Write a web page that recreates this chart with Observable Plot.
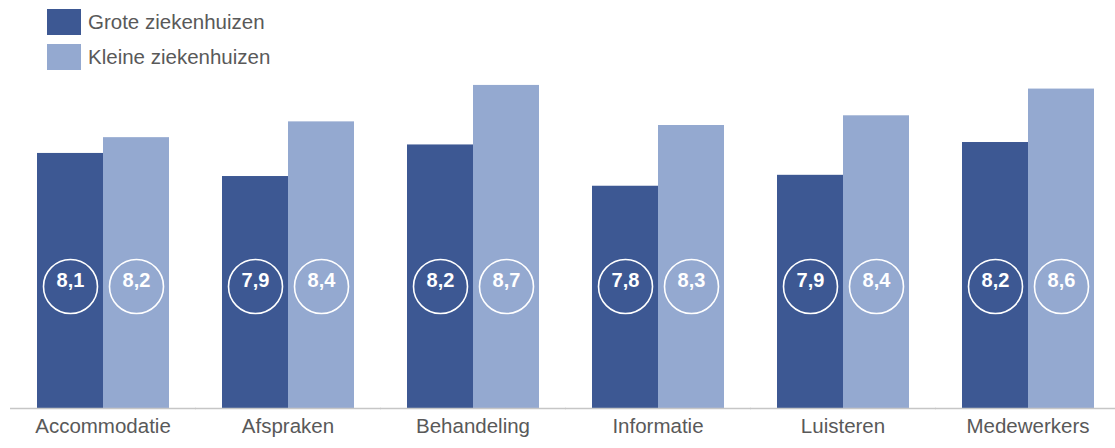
<!DOCTYPE html>
<html>
<head>
<meta charset="utf-8">
<script src="https://cdn.jsdelivr.net/npm/d3@7"></script>
<script src="https://cdn.jsdelivr.net/npm/@observablehq/plot@0.6"></script>
<style>
  html, body { margin: 0; padding: 0; background: #fff; overflow: hidden; }
  body { width: 1115px; height: 448px; font-family: "Liberation Sans", Arial, sans-serif; }
  #legend { position: relative; height: 74px; }
  .item { position: absolute; left: 47px; display: flex; align-items: center; }
  .sw { width: 34px; height: 26px; margin-right: 7px; }
  .lab { font-size: 20.5px; color: #595959; }
</style>
</head>
<body>
<div id="legend"></div>
<div id="chart"></div>
<script>
const categories = ["Accommodatie", "Afspraken", "Behandeling", "Informatie", "Luisteren", "Medewerkers"];
const seriesNames = ["Grote ziekenhuizen", "Kleine ziekenhuizen"];
const grote = [8.10, 7.91, 8.17, 7.83, 7.92, 8.19];
const kleine = [8.23, 8.36, 8.66, 8.33, 8.41, 8.63];
const colors = ["#3d5893", "#94a9d0"];
const baseline = 6;

const data = [];
categories.forEach((c, i) => {
  data.push({cat: c, series: seriesNames[0], value: grote[i]});
  data.push({cat: c, series: seriesNames[1], value: kleine[i]});
});

const fmt = v => d3.format(".1f")(v).replace(".", ",");

// legend
const legend = document.getElementById("legend");
seriesNames.forEach((s, i) => {
  const it = document.createElement("div");
  it.className = "item";
  it.style.top = (9 + i * 35) + "px";
  it.innerHTML = `<div class="sw" style="background:${colors[i]}"></div><span class="lab">${s}</span>`;
  legend.appendChild(it);
});

const chart = Plot.plot({
  width: 1115,
  height: 374,
  marginTop: 0,
  marginBottom: 40,
  marginLeft: 35,
  marginRight: 19.5,
  style: {fontSize: "20.5px", fontFamily: "'Liberation Sans', Arial, sans-serif", color: "#595959", background: "white"},
  fx: {domain: categories, paddingInner: 0.283, paddingOuter: 0, tickSize: 0, tickPadding: 10, label: null},
  x: {domain: seriesNames, padding: 0, axis: null},
  y: {domain: [baseline, 8.75], axis: null},
  color: {domain: seriesNames, range: colors},
  marks: [
    Plot.barY(data, {fx: "cat", x: "series", y1: () => baseline, y2: "value", fill: "series"}),
    Plot.ruleY([baseline], {stroke: "#c6c6c6", strokeWidth: 1.5, insetLeft: -26, insetRight: -27}),
    Plot.dot(data, {fx: "cat", x: "series", frameAnchor: "bottom", dy: -122, r: 27, stroke: "white", strokeWidth: 1.6, fill: "none"}),
    Plot.text(data, {fx: "cat", x: "series", frameAnchor: "bottom", dy: -122, text: d => fmt(d.value), fill: "white", fontWeight: "bold", fontSize: 20})
  ]
});
document.getElementById("chart").appendChild(chart);
</script>
</body>
</html>
